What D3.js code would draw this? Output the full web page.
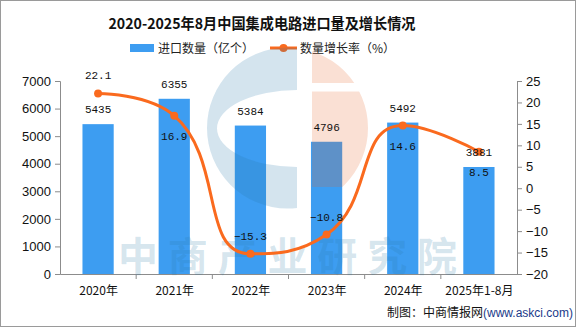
<!DOCTYPE html>
<html><head><meta charset="utf-8">
<script src="https://cdn.jsdelivr.net/npm/d3@7/dist/d3.min.js"></script>
<style>html,body{margin:0;padding:0;background:#fff}svg{display:block}</style>
</head><body>
<script>
const categories = ["2020年","2021年","2022年","2023年","2024年","2025年1-8月"];
const importVolume = [5435, 6355, 5384, 4796, 5492, 3881];
const growthRate = [22.1, 16.9, -15.3, -10.8, 14.6, 8.5];
const growthLabelSide = ["above","below","above","above","below","below"];
const leftTicks = [0,1000,2000,3000,4000,5000,6000,7000];
const rightTicks = [-20,-15,-10,-5,0,5,10,15,20,25];
const titleText = "2020-2025年8月中国集成电路进口量及增长情况";
const legendBar = "进口数量（亿个）";
const legendLine = "数量增长率（%）";

const W = 576, H = 327;
const BAR = "#3d9df1", LINE = "#fa6a1e";
const svg = d3.select("body").append("svg").attr("width", W).attr("height", H);
svg.append("rect").attr("x",0.5).attr("y",0.5).attr("width",W-1).attr("height",H-1)
  .attr("fill","#fff").attr("stroke","#9a9a9a");

const m = {l:60, r:517, t:81, b:274};
const x = d3.scaleBand().domain(categories).range([m.l, m.r]).paddingInner(0.59).paddingOuter(0.295);
const xc = d3.scalePoint().domain(categories).range([m.l, m.r]).padding(0.5);
const yL = d3.scaleLinear().domain([0,7000]).range([m.b, m.t]);
const yR = d3.scaleLinear().domain([-20,25]).range([m.b, m.t]);

// title
svg.append("text").attr("x",262).attr("y",29).attr("text-anchor","middle")
  .attr("font-family","'Noto Sans CJK SC'").attr("font-weight","bold").attr("font-size",15)
  .attr("textLength",307).attr("lengthAdjust","spacingAndGlyphs").attr("fill","#111").text(titleText);

// legend
svg.append("rect").attr("x",130).attr("y",44).attr("width",24).attr("height",8).attr("fill",BAR);
svg.append("text").attr("x",158).attr("y",52.5).attr("font-family","'Noto Sans CJK SC'").attr("font-size",12)
  .attr("fill","#222").text(legendBar);
svg.append("line").attr("x1",270).attr("x2",297).attr("y1",48).attr("y2",48).attr("stroke",LINE).attr("stroke-width",3);
svg.append("circle").attr("cx",283.5).attr("cy",48).attr("r",4).attr("fill",LINE);
svg.append("text").attr("x",300).attr("y",52.5).attr("font-family","'Noto Sans CJK SC'").attr("font-size",12)
  .attr("fill","#222").text(legendLine);

// axes
const axCol = "#8c8c8c";
const gL = svg.append("g").attr("transform",`translate(${m.l},0)`)
  .call(d3.axisLeft(yL).tickValues(leftTicks).tickSize(5).tickPadding(4).tickFormat(d3.format("d")));
const gR = svg.append("g").attr("transform",`translate(${m.r},0)`)
  .call(d3.axisRight(yR).tickValues(rightTicks).tickSize(5).tickPadding(4).tickFormat(d => d < 0 ? "−" + Math.abs(d) : d));
const gX = svg.append("g").attr("transform",`translate(0,${m.b})`)
  .call(d3.axisBottom(xc).tickSize(0).tickPadding(10));
[gL,gR,gX].forEach(g => {
  g.select(".domain").attr("stroke",axCol);
  g.selectAll(".tick line").attr("stroke",axCol);
  g.selectAll("text").attr("fill","#111").attr("font-family","'Liberation Sans'").attr("font-size",13);
});
gX.selectAll("text").attr("font-family","'Noto Sans CJK SC'").attr("font-size",12).attr("dy","0.9em");
// category boundary ticks
const step = xc.step();
svg.append("g").selectAll("line").data(categories.slice(1)).join("line")
  .attr("x1", d => xc(d) - step/2).attr("x2", d => xc(d) - step/2)
  .attr("y1", m.b).attr("y2", m.b+5).attr("stroke",axCol);

// bars
svg.append("g").selectAll("rect").data(importVolume).join("rect")
  .attr("x",(d,i)=>x(categories[i])).attr("width",x.bandwidth())
  .attr("y",d=>yL(d)).attr("height",d=>m.b-yL(d)).attr("fill",BAR);

// watermark
const wm = svg.append("g").attr("pointer-events","none");
const cx0 = 287.5, cy0 = 128, r0 = 80.5;
const defs = svg.append("defs");
defs.append("clipPath").attr("id","clipL").append("rect").attr("x",0).attr("y",0).attr("width",297).attr("height",H);
defs.append("clipPath").attr("id","clipR").append("rect").attr("x",312).attr("y",0).attr("width",200).attr("height",187);
const mk = defs.append("mask").attr("id","maskR");
mk.append("rect").attr("x",0).attr("y",0).attr("width",W).attr("height",H).attr("fill","#fff");
mk.append("rect").attr("x",300).attr("y",83).attr("width",120).attr("height",8.5).attr("fill","#000");
const circ = (cx,cy,r) => `M${cx-r},${cy}a${r},${r} 0 1,0 ${2*r},0a${r},${r} 0 1,0 ${-2*r},0Z`;
const ell = (cx,cy,rx,ry) => `M${cx-rx},${cy}a${rx},${ry} 0 1,0 ${2*rx},0a${rx},${ry} 0 1,0 ${-2*rx},0Z`;
wm.append("path").attr("clip-path","url(#clipL)").attr("fill-rule","evenodd")
  .attr("d", circ(cx0,cy0,r0) + ell(297,128.5,80,38.5)).attr("fill","#2a7aa8").attr("fill-opacity",0.2);
wm.append("g").attr("mask","url(#maskR)").append("path").attr("clip-path","url(#clipR)")
  .attr("d", circ(cx0,cy0,r0)).attr("fill","#e66428").attr("fill-opacity",0.2);
wm.append("text").attr("x",118).attr("y",271).attr("font-family","'Noto Sans CJK SC'").attr("font-weight","bold")
  .attr("font-size",40).attr("textLength",339).attr("lengthAdjust","spacing")
  .attr("fill","#2a7aa8").attr("fill-opacity",0.2).text("中商产业研究院");

// smooth line (echarts-like)
const pts = growthRate.map((v,i)=>[xc(categories[i]), yR(v)]);
function smoothPath(p, s){
  const path = d3.path();
  path.moveTo(p[0][0], p[0][1]);
  let c1x = p[0][0], c1y = p[0][1];
  const cl = (v,a,b)=>Math.max(Math.min(v,Math.max(a,b)),Math.min(a,b));
  for (let i=1;i<p.length;i++){
    const [X,Y] = p[i], [px,py] = p[i-1];
    if (i === p.length-1){ path.bezierCurveTo(c1x,c1y,X,Y,X,Y); break; }
    const [nx,ny] = p[i+1];
    let vx = nx-px, vy = ny-py;
    const d0 = Math.hypot(X-px,Y-py), d1 = Math.hypot(nx-X,ny-Y);
    const r = d1/(d0+d1);
    let ax = X + vx*s*r, ay = Y + vy*s*r;
    ax = cl(ax,nx,X); ay = cl(ay,ny,Y);
    vx = ax-X; vy = ay-Y;
    let bx = X - vx*d0/d1, by = Y - vy*d0/d1;
    bx = cl(bx,px,X); by = cl(by,py,Y);
    vx = X-bx; vy = Y-by;
    ax = X + vx*d1/d0; ay = Y + vy*d1/d0;
    path.bezierCurveTo(c1x,c1y,bx,by,X,Y);
    c1x = ax; c1y = ay;
  }
  return path.toString();
}
svg.append("path").attr("d", smoothPath(pts, 0.5)).attr("fill","none").attr("stroke",LINE).attr("stroke-width",3);
svg.append("g").selectAll("circle").data(pts).join("circle")
  .attr("cx",d=>d[0]).attr("cy",d=>d[1]).attr("r",4).attr("fill",LINE);

// bar labels
svg.append("g").selectAll("text").data(importVolume).join("text")
  .attr("x",(d,i)=>xc(categories[i])).attr("y",d=>yL(d)-11).attr("text-anchor","middle")
  .attr("font-family","'Liberation Mono'").attr("font-size",11).attr("fill","#111").text(d=>d);
// line labels
svg.append("g").selectAll("text").data(growthRate).join("text")
  .attr("x",(d,i)=>xc(categories[i])).attr("y",(d,i)=> growthLabelSide[i]==="above" ? yR(d)-14 : yR(d)+24)
  .attr("text-anchor","middle").attr("font-family","'Liberation Mono'").attr("font-size",11).attr("fill","#111")
  .text(d=> d<0 ? "−"+Math.abs(d) : d);

// footer
const ft = svg.append("text").attr("x",387).attr("y",317).attr("font-family","'Noto Sans CJK SC'").attr("font-size",12).attr("fill","#111");
ft.append("tspan").text("制图：中商情报网");
ft.append("tspan").attr("fill","#1a3a8a").attr("font-family","'Liberation Sans'").text("(www.askci.com)");
</script>
</body></html>
